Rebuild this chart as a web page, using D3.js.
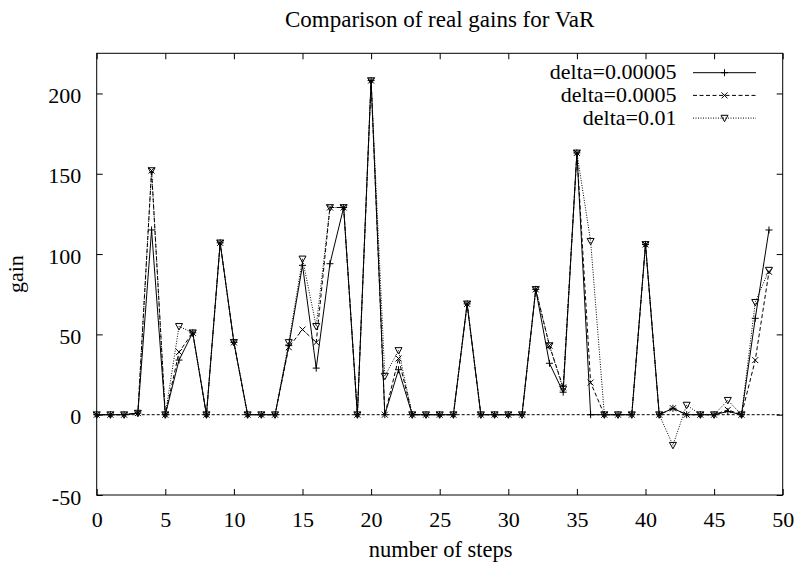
<!DOCTYPE html>
<html>
<head>
<meta charset="utf-8">
<script src="https://cdn.jsdelivr.net/npm/d3@7"></script>
<style>
  body { margin: 0; background: #fff; }
  svg text { font-family: "Liberation Serif", serif !important; fill: #000; }
</style>
</head>
<body>
<svg id="chart" width="797" height="565"></svg>
<script>
// ---- data ----
const steps = [0,1,2,3,4,5,6,7,8,9,10,11,12,13,14,15,16,17,18,19,20,21,22,23,24,25,26,27,28,29,30,31,32,33,34,35,36,37,38,39,40,41,42,43,44,45,46,47,48,49];
const seriesNames = ["delta=0.00005", "delta=0.0005", "delta=0.01"];
const gainA = [0,0,0,1,115,0,34,51,0,107,45,0,0,0,43,93,29,94,129,0,208,0,28,0,0,0,0,69,0,0,0,0,78,32,14,163,0,0,0,0,106,0,4,0,0,0,2,0,60,115];
const gainB = [0,0,0,1,152,0,39,51,0,107,45,0,0,0,42,53,45,129,129,0,208,0,35,0,0,0,0,69,0,0,0,0,78,43,17,163,20,0,0,0,106,0,4,0,0,0,3,0,34,89];
const gainC = [0,0,0,1,152,0,55,51,0,107,45,0,0,0,45,97,55,129,129,0,208,24,40,0,0,0,0,69,0,0,0,0,78,43,16,163,108,0,0,0,106,0,-19,6,0,0,9,0,70,90];
const xTicks = [0,5,10,15,20,25,30,35,40,45,50];
const yTicks = [-50,0,50,100,150,200];
const titleText = "Comparison of real gains for VaR";
const xLabel = "number of steps";
const yLabel = "gain";

// ---- layout ----
const L = 96.7, R = 782.7, T = 53.3, B = 495;
const FS = 22;
const svg = d3.select("#chart");
const x = d3.scaleLinear().domain([0, 50]).range([L, R]);
const y = d3.scaleLinear().domain([-50, 225]).range([B, T]);

const allSeries = [gainA, gainB, gainC];
const dashes = [null, "4,2.5", "1,1.5"];
const markerPaths = [
  "M-3.5,0H3.5M0,-3.5V3.5",
  "M-3,-3L3,3M-3,3L3,-3",
  "M-3.5,-2.8L3.5,-2.8L0,3.6Z"
];

// zero line
svg.append("line")
  .attr("x1", L).attr("x2", R).attr("y1", y(0)).attr("y2", y(0))
  .attr("stroke", "#000").attr("stroke-width", 1).attr("stroke-dasharray", "3,2");

// frame
svg.append("rect").attr("x", L).attr("y", T).attr("width", R - L).attr("height", B - T)
  .attr("fill", "none").attr("stroke", "#000").attr("stroke-width", 1);

// axes (ticks inward)
const tickLen = 6;
const fmt = d => String(d);
const gx = svg.append("g").attr("transform", `translate(0,${B})`)
  .call(d3.axisBottom(x).tickValues(xTicks).tickSizeInner(-tickLen).tickSizeOuter(0).tickFormat(fmt));
const gxTop = svg.append("g").attr("transform", `translate(0,${T})`)
  .call(d3.axisTop(x).tickValues(xTicks).tickSizeInner(-tickLen).tickSizeOuter(0).tickFormat(""));
const gy = svg.append("g").attr("transform", `translate(${L},0)`)
  .call(d3.axisLeft(y).tickValues(yTicks).tickSizeInner(-tickLen).tickSizeOuter(0).tickFormat(fmt));
const gyR = svg.append("g").attr("transform", `translate(${R},0)`)
  .call(d3.axisRight(y).tickValues(yTicks).tickSizeInner(-tickLen).tickSizeOuter(0).tickFormat(""));
[gx, gxTop, gy, gyR].forEach(g => {
  g.attr("font-family", null).attr("font-size", null);
  g.select(".domain").remove();
  g.selectAll(".tick line").attr("stroke", "#000");
  g.selectAll("text").style("font-size", FS + "px").attr("fill", "#000");
});
gx.selectAll(".tick text").attr("dy", null).attr("y", 32);
gy.selectAll(".tick text").attr("dy", null).attr("x", -15.5).attr("y", 9);

// series
const line = d3.line().x((d, i) => x(steps[i])).y(d => y(d));
allSeries.forEach((vals, s) => {
  svg.append("path").datum(vals).attr("d", line)
    .attr("fill", "none").attr("stroke", "#000").attr("stroke-width", 1)
    .attr("stroke-dasharray", dashes[s]);
  svg.append("g").selectAll("path").data(vals).join("path")
    .attr("transform", (d, i) => `translate(${x(steps[i])},${y(d)})`)
    .attr("d", markerPaths[s]).attr("fill", "none").attr("stroke", "#000").attr("stroke-width", 1);
});

// legend
const legY = [72.7, 95.4, 118.1];
seriesNames.forEach((name, s) => {
  const ly = legY[s];
  svg.append("text").attr("x", 676.5).attr("y", ly + 6.5).attr("text-anchor", "end")
    .style("font-size", FS + "px").text(name);
  svg.append("line").attr("x1", 693).attr("x2", 756).attr("y1", ly).attr("y2", ly)
    .attr("stroke", "#000").attr("stroke-width", 1).attr("stroke-dasharray", dashes[s]);
  svg.append("path").attr("transform", `translate(724.5,${ly})`).attr("d", markerPaths[s])
    .attr("fill", "none").attr("stroke", "#000").attr("stroke-width", 1);
});

// titles
svg.append("text").attr("x", (L + R) / 2).attr("y", 27.3).attr("text-anchor", "middle")
  .style("font-size", "23px").text(titleText);
svg.append("text").attr("x", (L + R) / 2 + 1).attr("y", 557).attr("text-anchor", "middle")
  .style("font-size", "22.5px").text(xLabel);
svg.append("text").attr("transform", `translate(23,${(T + B) / 2}) rotate(-90)`)
  .attr("text-anchor", "middle").style("font-size", FS + "px").text(yLabel);
</script>
</body>
</html>
